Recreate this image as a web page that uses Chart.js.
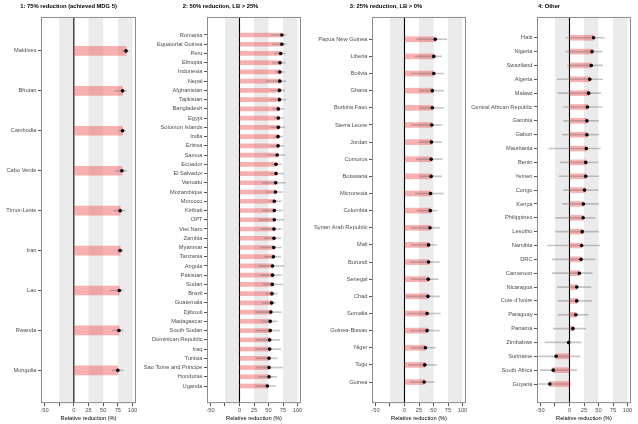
<!DOCTYPE html>
<html>
<head>
<meta charset="utf-8">
<script src="https://cdn.jsdelivr.net/npm/chart.js@4.4.1/dist/chart.umd.min.js"></script>
<style>
body { margin: 0; background: #fff; width: 638px; height: 424px; position: relative; overflow: hidden; }
canvas { position: absolute; top: 0; }
</style>
</head>
<body>
<canvas id="p1" width="140" height="424" style="left:0px"></canvas>
<canvas id="p2" width="166" height="424" style="left:139px"></canvas>
<canvas id="p3" width="165" height="424" style="left:305px"></canvas>
<canvas id="p4" width="169" height="424" style="left:466px"></canvas>
<script>
// panel 1: 75% reduction
const names1 = ['Maldives', 'Bhutan', 'Cambodia', 'Cabo Verde', 'Timor-Leste', 'Iran', 'Lao', 'Rwanda', 'Mongolia'];
const est1 = [89, 83, 83, 82, 79, 79, 77.5, 77, 75];
const lo1 = [82, 70, 77, 71, 68, 74, 62, 66, 65];
const hi1 = [93, 90, 88, 90, 87, 84, 84, 84, 84];

// panel 2: 50% reduction, LB > 25%
const names2 = ['Romania', 'Equatorial Guinea', 'Peru', 'Ethiopia', 'Indonesia', 'Nepal', 'Afghanistan', 'Tajikistan',
    'Bangladesh', 'Egypt', 'Solomon Islands', 'India', 'Eritrea', 'Samoa', 'Ecuador', 'El Salvador', 'Vanuatu',
    'Mozambique', 'Morocco', 'Kiribati', 'OPT', 'Viet Nam', 'Zambia', 'Myanmar', 'Tanzania', 'Angola', 'Pakistan',
    'Sudan', 'Brazil', 'Guatemala', 'Djibouti', 'Madagascar', 'South Sudan', 'Dominican Republic', 'Iraq', 'Tunisia',
    'Sao Tome and Principe', 'Honduras', 'Uganda'];
const est2 = [73, 73, 71, 70, 69.5, 69.5, 69, 69, 67, 67, 67, 66.5, 66.5, 65, 63, 63, 62.5, 62, 60, 60,
    60, 59.5, 59.5, 59, 58.5, 57, 57, 56.5, 56, 55.5, 54, 53, 53, 52, 52, 51, 51, 51, 48];
const lo2 = [54, 57, 60, 57, 62, 46, 53, 52, 57, 60, 52, 60, 52, 49, 55, 52, 40, 46, 51, 40,
    34, 37, 43, 37, 43, 34, 37, 40, 46, 40, 28, 37, 29, 29, 28, 29, 30, 33, 28];
const hi2 = [80, 80, 79, 79, 77, 80, 78, 80, 76, 75, 78, 74, 76, 78, 72, 76, 79, 74, 72, 74,
    77, 72, 71, 72, 71, 77, 72, 74, 65, 62, 72, 65, 69, 69, 71, 65, 74, 64, 62];

// panel 3: 25% reduction, LB > 0%
const names3 = ['Papua New Guinea', 'Liberia', 'Bolivia', 'Ghana', 'Burkina Faso', 'Sierra Leone', 'Jordan', 'Comoros',
    'Botswana', 'Micronesia', 'Colombia', 'Syrian Arab Republic', 'Mali', 'Burundi', 'Senegal', 'Chad', 'Somalia',
    'Guinea-Bissau', 'Niger', 'Togo', 'Guinea'];
const est3 = [53, 50.5, 50.5, 48, 48, 47, 46.5, 46, 46, 45, 44.5, 44, 41.5, 41.5, 41, 40.5, 39, 39, 36, 35, 34];
const lo3 = [21, 18, 12, 26, 26, 12, 26, 20, 26, 18, 21, 12, 12, 10, 12, 4, 6, 10, 12, 7, 10];
const hi3 = [73, 64, 67, 67, 67, 64, 64, 65, 64, 67, 56, 61, 55, 60, 58, 60, 62, 60, 53, 55, 51];

// panel 4: other
const names4 = ['Haiti', 'Nigeria', 'Swaziland', 'Algeria', 'Malawi', 'Central African Republic', 'Gambia', 'Gabon',
    'Mauritania', 'Benin', 'Yemen', 'Congo', 'Kenya', 'Philippines', 'Lesotho', 'Namibia', 'DRC', 'Cameroon',
    'Nicaragua', "Cote d'Ivoire", 'Paraguay', 'Panama', 'Zimbabwe', 'Suriname', 'South Africa', 'Guyana'];
const est4 = [41.5, 39, 37.5, 35, 33, 31, 30, 30, 29, 28, 28, 26, 24, 23.5, 22, 21, 20, 17, 12.5, 12.5, 11, 6, -1.5, -23, -28, -34];
const lo4 = [-6, -6, -3, -21, -20, -10, -10, -12, -35, -16, -18, -10, -12, -24, -24, -38, -30, -30, -21, -20, -20, -28, -42, -57, -50, -57];
const hi4 = [60, 56, 57, 57, 54, 56, 50, 50, 53, 49, 50, 49, 50, 44, 50, 52, 44, 39, 37, 38, 32, 28, 20, 18, 12.5, 3];

const xTicks = [-50, -25, 0, 25, 50, 75, 100];
const bands = [[-25, 0], [25, 50], [75, 100]];

Chart.defaults.font.family = '"Liberation Sans", Arial, sans-serif';
Chart.defaults.font.size = 5.7;

const panelBg = {
    id: 'panelBg',
    beforeDatasetsDraw(chart) {
        const {ctx, chartArea: a, scales: {x}} = chart;
        ctx.save();
        ctx.fillStyle = '#ebebeb';
        bands.forEach(b => {
            const x0 = x.getPixelForValue(b[0]);
            const x1 = x.getPixelForValue(b[1]);
            ctx.fillRect(x0, a.top, x1 - x0, a.bottom - a.top);
        });
        ctx.strokeStyle = '#000';
        ctx.lineWidth = 1.1;
        const z = x.getPixelForValue(0);
        ctx.beginPath();
        ctx.moveTo(z, a.top);
        ctx.lineTo(z, a.bottom);
        ctx.stroke();
        ctx.restore();
    },
    afterDraw(chart) {
        const {ctx, chartArea: a} = chart;
        ctx.save();
        ctx.strokeStyle = '#8c8c8c';
        ctx.lineWidth = 1;
        ctx.strokeRect(a.left + 0.5, a.top + 0.5, a.right - a.left - 1, a.bottom - a.top - 1);
        ctx.restore();
    }
};

function drawPanel(id, title, names, est, lo, hi, yMin, yMax, barH, axisW) {
    const ctx = document.getElementById(id).getContext('2d');
    new Chart(ctx, {
        type: 'bar',
        data: {
            datasets: [
                {
                    type: 'scatter',
                    data: names.map((n, i) => ({x: est[i], y: i})),
                    backgroundColor: '#000',
                    borderWidth: 0,
                    pointRadius: 1.8
                },
                {
                    grouped: false,
                    data: names.map((n, i) => ({x: [lo[i], hi[i]], y: i})),
                    backgroundColor: 'rgba(110,110,110,0.4)',
                    barThickness: 1
                },
                {
                    grouped: false,
                    data: names.map((n, i) => ({x: est[i], y: i})),
                    backgroundColor: 'rgba(240,80,80,0.45)',
                    barThickness: barH
                }
            ]
        },
        options: {
            indexAxis: 'y',
            responsive: false,
            animation: false,
            layout: {padding: {top: 0, right: 3, bottom: 2.2, left: 0}},
            plugins: {
                legend: {display: false},
                tooltip: {enabled: false},
                title: {
                    display: true,
                    text: title,
                    color: '#000',
                    font: {size: 5.8, weight: 'bold'},
                    padding: {top: 3, bottom: 7}
                }
            },
            scales: {
                x: {
                    type: 'linear',
                    min: -56,
                    max: 106,
                    offset: false,
                    afterBuildTicks: s => { s.ticks = xTicks.map(v => ({value: v})); },
                    ticks: {
                        autoSkip: false,
                        maxRotation: 0,
                        padding: 1,
                        color: '#4d4d4d',
                        callback: v => (v === -25 ? '' : v)
                    },
                    grid: {drawOnChartArea: false, offset: false, tickLength: 3, color: '#555'},
                    border: {display: false},
                    title: {display: true, text: 'Relative reduction (%)', color: '#000', padding: {top: 0, bottom: 0}}
                },
                y: {
                    type: 'linear',
                    reverse: true,
                    min: yMin,
                    max: yMax,
                    offset: false,
                    afterBuildTicks: s => { s.ticks = names.map((n, i) => ({value: i})); },
                    afterFit: s => { s.width = axisW; },
                    ticks: {
                        autoSkip: false,
                        padding: 1.5,
                        color: '#4d4d4d',
                        callback: v => names[v]
                    },
                    grid: {drawOnChartArea: false, offset: false, tickLength: 3, color: '#555'},
                    border: {display: false}
                }
            }
        },
        plugins: [panelBg]
    });
}

drawPanel('p1', '1: 75% reduction (achieved MDG 5)', names1, est1, lo1, hi1, -0.85, 8.82, 9, 41);
drawPanel('p2', '2: 50% reduction, LB > 25%', names2, est2, lo2, hi2, -1.95, 39.85, 4, 68);
drawPanel('p3', '3: 25% reduction, LB > 0%', names3, est3, lo3, hi3, -1.3, 21.23, 5, 67);
drawPanel('p4', '4: Other', names4, est4, lo4, hi4, -1.5, 26.38, 5, 71);
</script>
</body>
</html>
